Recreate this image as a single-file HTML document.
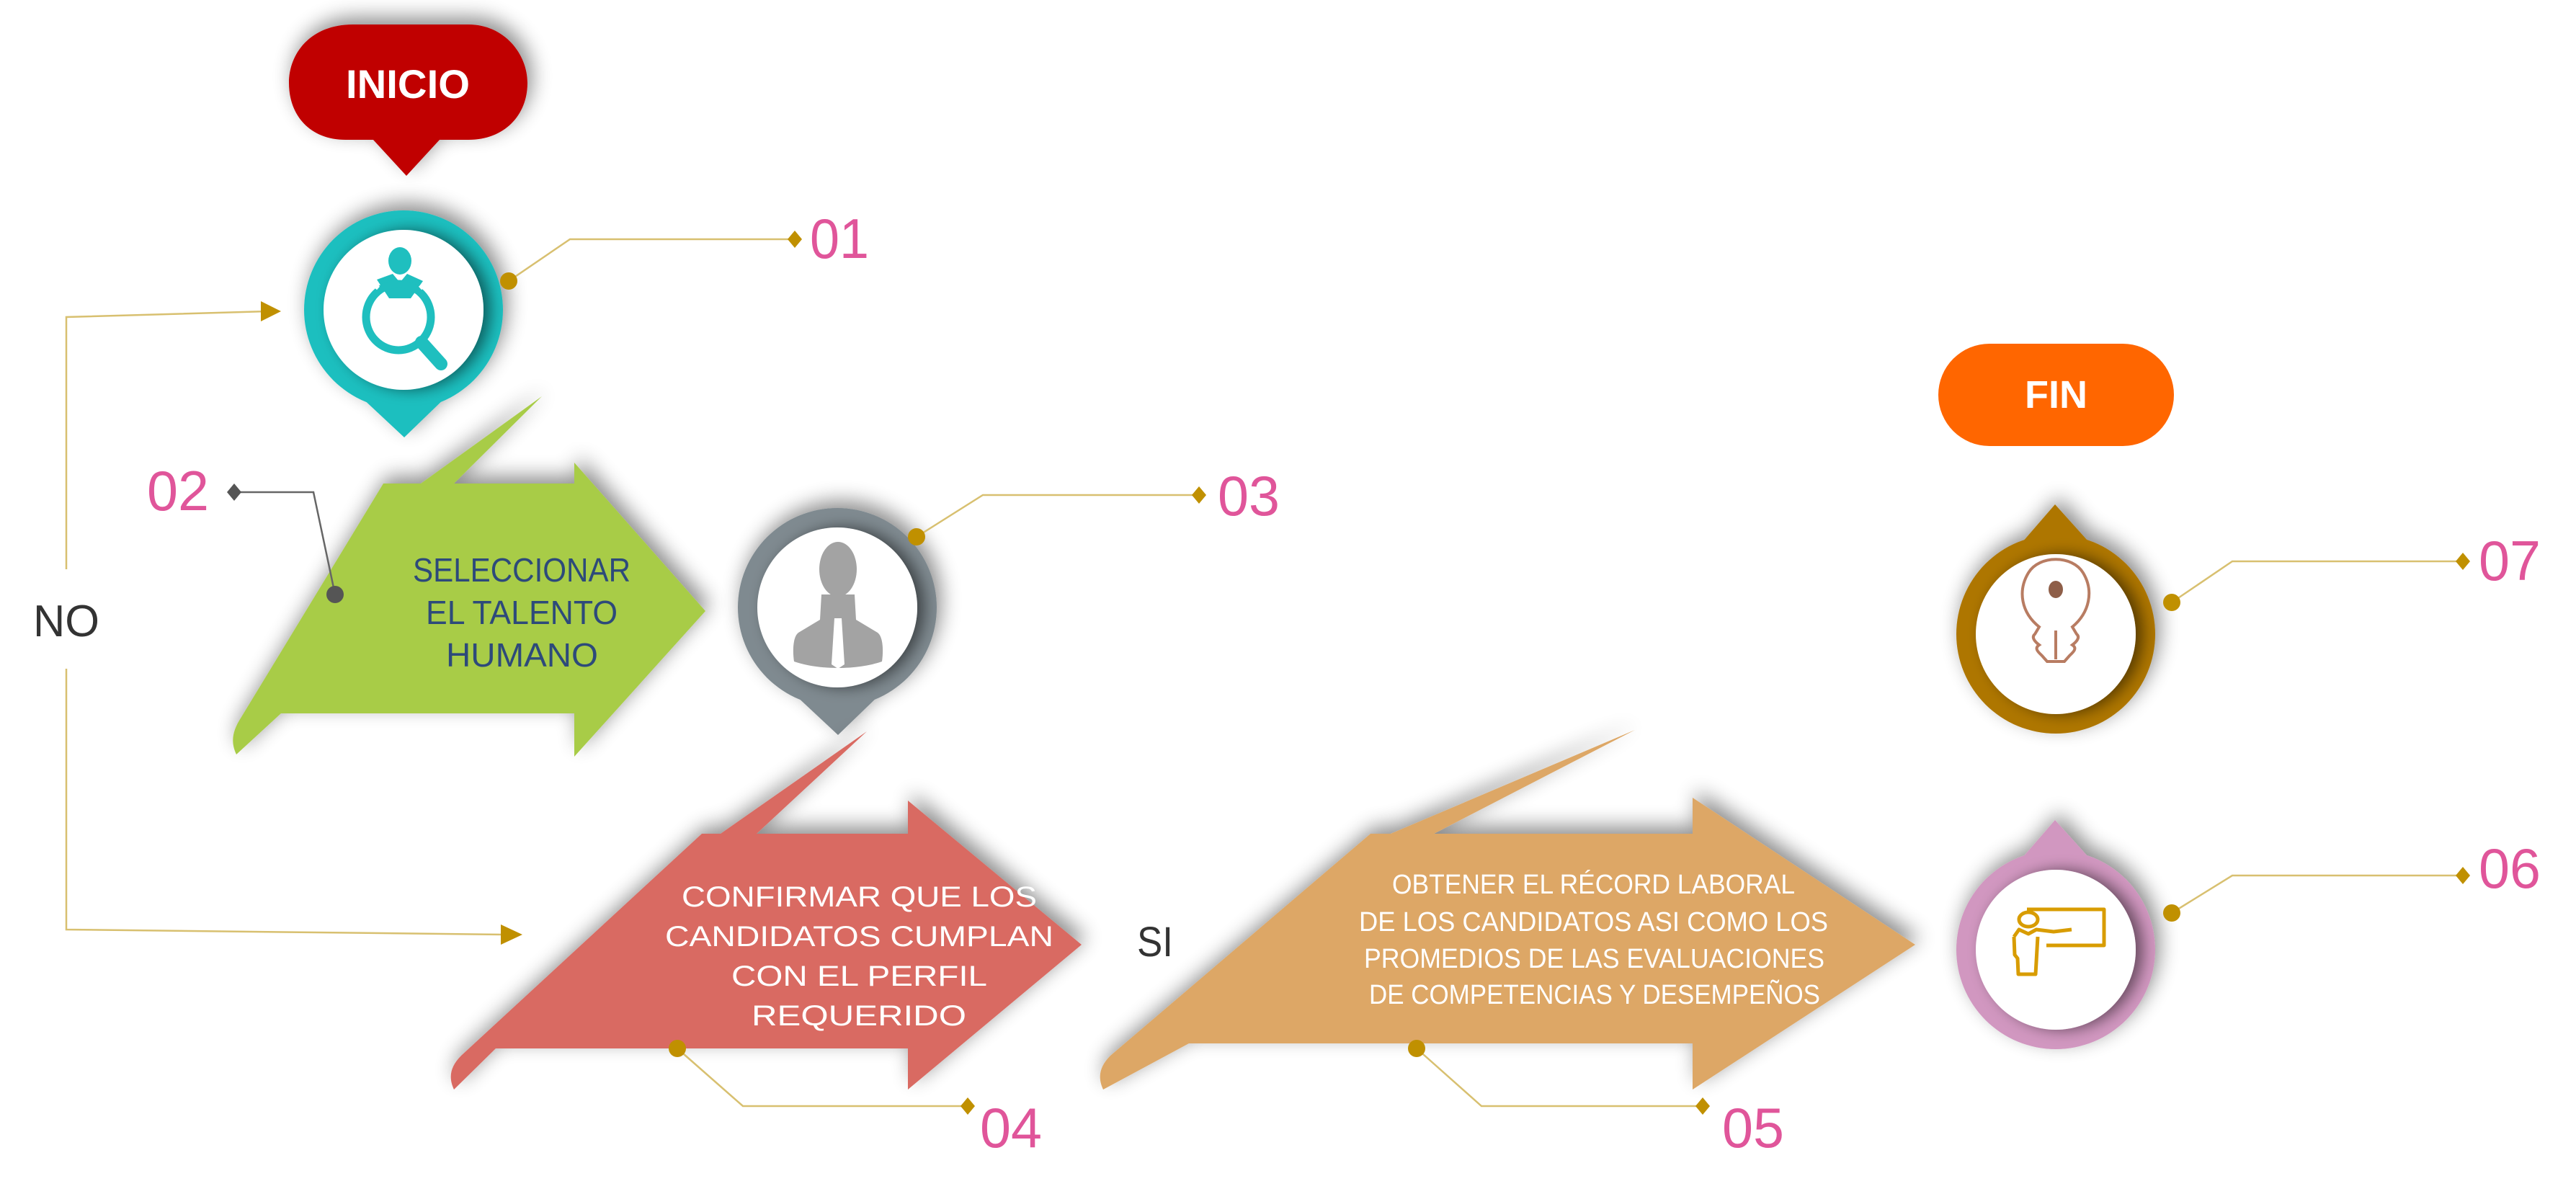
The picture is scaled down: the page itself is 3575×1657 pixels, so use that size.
<!DOCTYPE html>
<html><head><meta charset="utf-8"><style>
html,body{margin:0;padding:0;background:#fff;}
svg{display:block;}
text{font-family:"Liberation Sans Narrow","Liberation Sans",sans-serif;}
</style></head><body>
<svg width="3575" height="1657" viewBox="0 0 3575 1657" xmlns="http://www.w3.org/2000/svg">
<defs>
<filter id="sh" x="-30%" y="-30%" width="160%" height="160%"><feGaussianBlur in="SourceAlpha" stdDeviation="14"/><feOffset dx="6" dy="-10"/><feComponentTransfer><feFuncA type="linear" slope="0.45"/></feComponentTransfer><feMerge><feMergeNode/><feMergeNode in="SourceGraphic"/></feMerge></filter>
<filter id="ish" x="-30%" y="-30%" width="160%" height="160%"><feGaussianBlur in="SourceAlpha" stdDeviation="10"/><feOffset dx="10" dy="0"/><feComponentTransfer><feFuncA type="linear" slope="0.5"/></feComponentTransfer><feMerge><feMergeNode/><feMergeNode in="SourceGraphic"/></feMerge></filter>
</defs>

<!-- NO loop -->
<g stroke="#d8c070" stroke-width="2.5" fill="none">
<polyline points="372,432 92,440 92,790"/>
<polyline points="92,928 92,1290 700,1297"/>
</g>
<polygon points="362,418 390,432 362,446" fill="#c09000"/>
<polygon points="695,1283 725,1297 695,1311" fill="#c09000"/>
<text x="46" y="883" font-size="62" fill="#333" textLength="92" lengthAdjust="spacingAndGlyphs">NO</text>

<!-- INICIO -->
<g filter="url(#sh)">
<path d="M490,34 L650,34 C700,34 732,75 732,115 C732,160 700,194 650,194 L610,194 L564,244 L518,194 L480,194 C430,194 401,160 401,115 C401,75 430,34 490,34 Z" fill="#c00000"/>
</g>
<text x="480" y="136" font-size="56" font-weight="bold" fill="#fff" textLength="172" lengthAdjust="spacingAndGlyphs">INICIO</text>

<!-- Teal pin 01 -->
<g filter="url(#sh)">
<circle cx="560" cy="430" r="138" fill="#1fbfbf"/>
<polygon points="500,550 620,550 561,607" fill="#1fbfbf"/>
</g>
<circle cx="560" cy="430" r="111" fill="#fff" filter="url(#ish)"/>
<g fill="#1fbfbf">
<ellipse cx="555" cy="362" rx="16" ry="19"/>
<path d="M523,388 L545,380 L555,392 L565,380 L587,390 L570,414 L540,414 Z"/>
</g>
<ellipse cx="553" cy="440" rx="45" ry="46" fill="none" stroke="#1fbfbf" stroke-width="11"/>
<line x1="585" y1="475" x2="612" y2="505" stroke="#1fbfbf" stroke-width="18" stroke-linecap="round"/>
<line x1="516" y1="392" x2="525" y2="400" stroke="#fff" stroke-width="6"/>
<line x1="592" y1="392" x2="583" y2="400" stroke="#fff" stroke-width="6"/>

<g stroke="#d8c070" stroke-width="2.5" fill="none"><polyline points="706,390 791,332 1100,332"/></g>
<circle cx="706" cy="390" r="12" fill="#c09000"/>
<polygon points="1103,320 1113,332 1103,344 1093,332" fill="#c09000"/>
<text x="1124" y="358" font-size="78" fill="#e0559a" textLength="82" lengthAdjust="spacingAndGlyphs">01</text>

<!-- Green arrow 02 -->
<g filter="url(#sh)">
<polygon points="584,671 752,550 630,671" fill="#a8cc46"/>
<path d="M328,1047 C320,1030 322,1015 335,995 L532,671 L797,671 L797,642 L979,848 L797,1050 L797,990 L390,990 Z" fill="#a8cc46"/>
</g>
<g font-size="46" fill="#2d4a7a">
<text x="573" y="807" textLength="302" lengthAdjust="spacingAndGlyphs">SELECCIONAR</text>
<text x="591" y="866" textLength="266" lengthAdjust="spacingAndGlyphs">EL TALENTO</text>
<text x="619" y="925" textLength="211" lengthAdjust="spacingAndGlyphs">HUMANO</text>
</g>
<g stroke="#666" stroke-width="2.5" fill="none"><polyline points="325,683 435,683 465,825"/></g>
<circle cx="465" cy="825" r="12" fill="#555"/>
<polygon points="325,671 335,683 325,695 315,683" fill="#555"/>
<text x="204" y="708" font-size="78" fill="#e0559a" textLength="86" lengthAdjust="spacingAndGlyphs">02</text>

<!-- Gray pin 03 -->
<g filter="url(#sh)">
<circle cx="1162" cy="843" r="138" fill="#7f8a90"/>
<polygon points="1102,963 1222,963 1163,1020" fill="#7f8a90"/>
</g>
<circle cx="1162" cy="843" r="111" fill="#fff" filter="url(#ish)"/>
<g fill="#a3a3a3">
<ellipse cx="1163" cy="790" rx="26" ry="38"/>
<path d="M1140,825 L1186,825 L1188,860 L1218,878 C1226,884 1226,905 1224,918 C1190,930 1136,930 1102,918 C1100,905 1100,884 1108,878 L1138,860 Z"/>
</g>
<path d="M1158,858 L1168,858 L1172,922 L1163,928 L1154,922 Z" fill="#fff"/>
<g stroke="#d8c070" stroke-width="2.5" fill="none"><polyline points="1272,745 1364,687 1661,687"/></g>
<circle cx="1272" cy="745" r="12" fill="#c09000"/>
<polygon points="1664,675 1674,687 1664,699 1654,687" fill="#c09000"/>
<text x="1690" y="715" font-size="78" fill="#e0559a" textLength="86" lengthAdjust="spacingAndGlyphs">03</text>

<!-- Red arrow 04 -->
<g filter="url(#sh)">
<polygon points="1000,1157 1203,1015 1050,1157" fill="#d96a62"/>
<path d="M630,1512 C622,1495 625,1480 640,1465 L974,1157 L1260,1157 L1260,1111 L1501,1311 L1260,1512 L1260,1455 L688,1455 Z" fill="#d96a62"/>
</g>
<g font-size="40" fill="#fff">
<text x="946" y="1258" textLength="493" lengthAdjust="spacingAndGlyphs">CONFIRMAR QUE LOS</text>
<text x="923" y="1313" textLength="539" lengthAdjust="spacingAndGlyphs">CANDIDATOS CUMPLAN</text>
<text x="1015" y="1368" textLength="355" lengthAdjust="spacingAndGlyphs">CON EL PERFIL</text>
<text x="1043" y="1423" textLength="298" lengthAdjust="spacingAndGlyphs">REQUERIDO</text>
</g>
<g stroke="#d8c070" stroke-width="2.5" fill="none"><polyline points="940,1455 1031,1535 1340,1535"/></g>
<circle cx="940" cy="1455" r="12" fill="#c09000"/>
<polygon points="1343,1523 1353,1535 1343,1547 1333,1535" fill="#c09000"/>
<text x="1360" y="1592" font-size="78" fill="#e0559a" textLength="86" lengthAdjust="spacingAndGlyphs">04</text>

<text x="1578" y="1327" font-size="58" fill="#333" textLength="50" lengthAdjust="spacingAndGlyphs">SI</text>

<!-- Tan arrow 05 -->
<g filter="url(#sh)">
<polygon points="1930,1157 2269,1013 1990,1157" fill="#dda766"/>
<path d="M1531,1512 C1523,1495 1526,1480 1541,1465 L1902,1157 L2349,1157 L2349,1107 L2658,1311 L2349,1512 L2349,1448 L1650,1448 Z" fill="#dda766"/>
</g>
<g font-size="38" fill="#fff">
<text x="1932" y="1240" textLength="559" lengthAdjust="spacingAndGlyphs">OBTENER EL RÉCORD LABORAL</text>
<text x="1886" y="1292" textLength="651" lengthAdjust="spacingAndGlyphs">DE LOS CANDIDATOS ASI COMO LOS</text>
<text x="1893" y="1343" textLength="639" lengthAdjust="spacingAndGlyphs">PROMEDIOS DE LAS EVALUACIONES</text>
<text x="1900" y="1393" textLength="626" lengthAdjust="spacingAndGlyphs">DE COMPETENCIAS Y DESEMPEÑOS</text>
</g>
<g stroke="#d8c070" stroke-width="2.5" fill="none"><polyline points="1966,1455 2056,1535 2360,1535"/></g>
<circle cx="1966" cy="1455" r="12" fill="#c09000"/>
<polygon points="2363,1523 2373,1535 2363,1547 2353,1535" fill="#c09000"/>
<text x="2390" y="1592" font-size="78" fill="#e0559a" textLength="86" lengthAdjust="spacingAndGlyphs">05</text>

<!-- FIN -->
<rect x="2690" y="477" width="327" height="142" rx="71" fill="#ff6600"/>
<text x="2810" y="566" font-size="54" font-weight="bold" fill="#fff" textLength="87" lengthAdjust="spacingAndGlyphs">FIN</text>

<!-- Brown ring 07 -->
<g filter="url(#sh)">
<circle cx="2853" cy="880" r="138" fill="#ae7600"/>
<polygon points="2800,760 2852,700 2906,760" fill="#ae7600"/>
</g>
<circle cx="2853" cy="880" r="111" fill="#fff" filter="url(#ish)"/>
<path d="M2830,870 C2805,850 2800,820 2815,795 C2830,770 2876,770 2891,795 C2906,820 2900,850 2876,870 L2882,880 C2888,885 2880,892 2876,895 C2884,900 2876,906 2872,910 L2865,918 L2841,918 L2834,910 C2830,906 2822,900 2830,895 C2826,892 2818,885 2824,880 Z" fill="none" stroke="#b87c62" stroke-width="4"/>
<line x1="2853" y1="875" x2="2853" y2="915" stroke="#b87c62" stroke-width="4"/>
<ellipse cx="2853" cy="818" rx="10" ry="12" fill="#8e5e48"/>
<g stroke="#d8c070" stroke-width="2.5" fill="none"><polyline points="3014,836 3098,779 3415,779"/></g>
<circle cx="3014" cy="836" r="12" fill="#c09000"/>
<polygon points="3418,767 3428,779 3418,791 3408,779" fill="#c09000"/>
<text x="3440" y="805" font-size="78" fill="#e0559a" textLength="86" lengthAdjust="spacingAndGlyphs">07</text>

<!-- Pink ring 06 -->
<g filter="url(#sh)">
<circle cx="2853" cy="1318" r="138" fill="#d197c0"/>
<polygon points="2800,1198 2852,1138 2906,1198" fill="#d197c0"/>
</g>
<circle cx="2853" cy="1318" r="111" fill="#fff" filter="url(#ish)"/>
<g fill="none" stroke="#d89c00" stroke-width="5" stroke-linejoin="round">
<polyline points="2813,1262 2920,1262 2920,1312 2840,1312"/>
<ellipse cx="2815" cy="1276" rx="13" ry="10"/>
<path d="M2795,1300 L2802,1290 L2815,1296 L2826,1290 L2850,1293 L2875,1290 M2795,1300 L2796,1325 L2800,1330 L2801,1352 L2825,1352 L2828,1300"/>
</g>
<g stroke="#d8c070" stroke-width="2.5" fill="none"><polyline points="3014,1267 3098,1215 3415,1215"/></g>
<circle cx="3014" cy="1267" r="12" fill="#c09000"/>
<polygon points="3418,1203 3428,1215 3418,1227 3408,1215" fill="#c09000"/>
<text x="3440" y="1232" font-size="78" fill="#e0559a" textLength="86" lengthAdjust="spacingAndGlyphs">06</text>
</svg>
</body></html>
